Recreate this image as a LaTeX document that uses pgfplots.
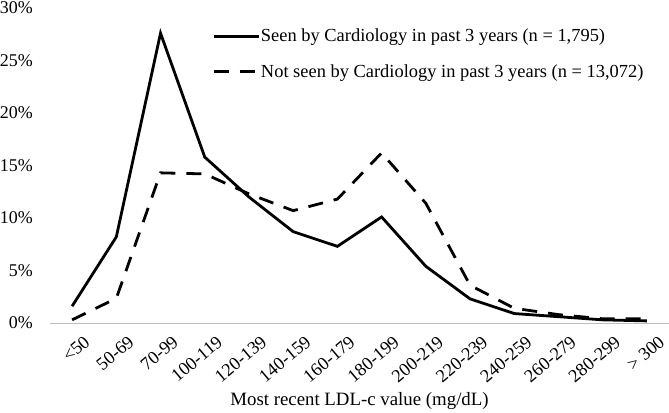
\documentclass[border=0pt]{standalone}
\usepackage{pgfplots}
\pgfplotsset{compat=1.18}
\usepackage{fontspec}
\setmainfont{Liberation Serif}
\begin{document}
\begin{tikzpicture}
\begin{axis}[
  name=main,
  scale only axis,
  width=619bp, height=315bp,
  xmin=-0.5, xmax=13.5,
  ymin=0, ymax=30,
  axis x line*=bottom,
  axis y line*=left,
  y axis line style={draw=none},
  x axis line style={draw={rgb,255:red,190;green,190;blue,190}, line width=1bp},
  major tick length=0pt,
  xtick={0,...,13},
  xticklabels={<50,50-69,70-99,100-119,120-139,140-159,160-179,180-199,200-219,220-239,240-259,260-279,280-299,> 300},
  xticklabel style={rotate=40, anchor=north east, inner sep=0pt, yshift=-16bp, xshift=1bp, font=\fontsize{18.3}{20}\selectfont},
  ytick={0,5,...,30},
  yticklabel={\pgfmathprintnumber{\tick}\%},
  yticklabel style={anchor=east, inner sep=0pt, xshift=-17bp, font=\fontsize{18}{20}\selectfont},
  /pgf/number format/assume math mode=true,
  xlabel={Most recent LDL-c value (mg/dL)},
  xlabel style={font=\fontsize{18.9}{20}\selectfont, at={(axis description cs:0.5,0)}, anchor=base, yshift=-82bp},
  legend style={draw=none, fill=none, at={(0.2617,0.94)}, anchor=north west,
    font=\fontsize{18.5}{20}\selectfont, row sep=17bp, inner sep=0pt,
    nodes={inner xsep=1bp}},
  legend cell align=left,
  legend image code/.code={\draw[#1] (0bp,0bp) -- (45bp,0bp);},
]
\addplot[black, line width=2.8bp] coordinates {
(0,1.6) (1,8.2) (2,27.6) (3,15.8) (4,12.0) (5,8.7) (6,7.3) (7,10.1) (8,5.4) (9,2.3) (10,0.9) (11,0.6) (12,0.3) (13,0.2)};
\addlegendentry{Seen by Cardiology in past 3 years (n = 1,795)}
\addplot[black, line width=2.8bp, dash pattern=on 15bp off 11bp] coordinates {
(0,0.3) (1,2.35) (2,14.3) (3,14.2) (4,12.3) (5,10.7) (6,11.8) (7,16.2) (8,11.4) (9,3.6) (10,1.4) (11,0.8) (12,0.4) (13,0.4)};
\addlegendentry{Not seen by Cardiology in past 3 years (n = 13,072)}
\end{axis}
\pgfresetboundingbox
\path ([shift={(-50bp,-90bp)}]main.south west) rectangle ([shift={(0bp,8bp)}]main.north east);
\end{tikzpicture}
\end{document}
